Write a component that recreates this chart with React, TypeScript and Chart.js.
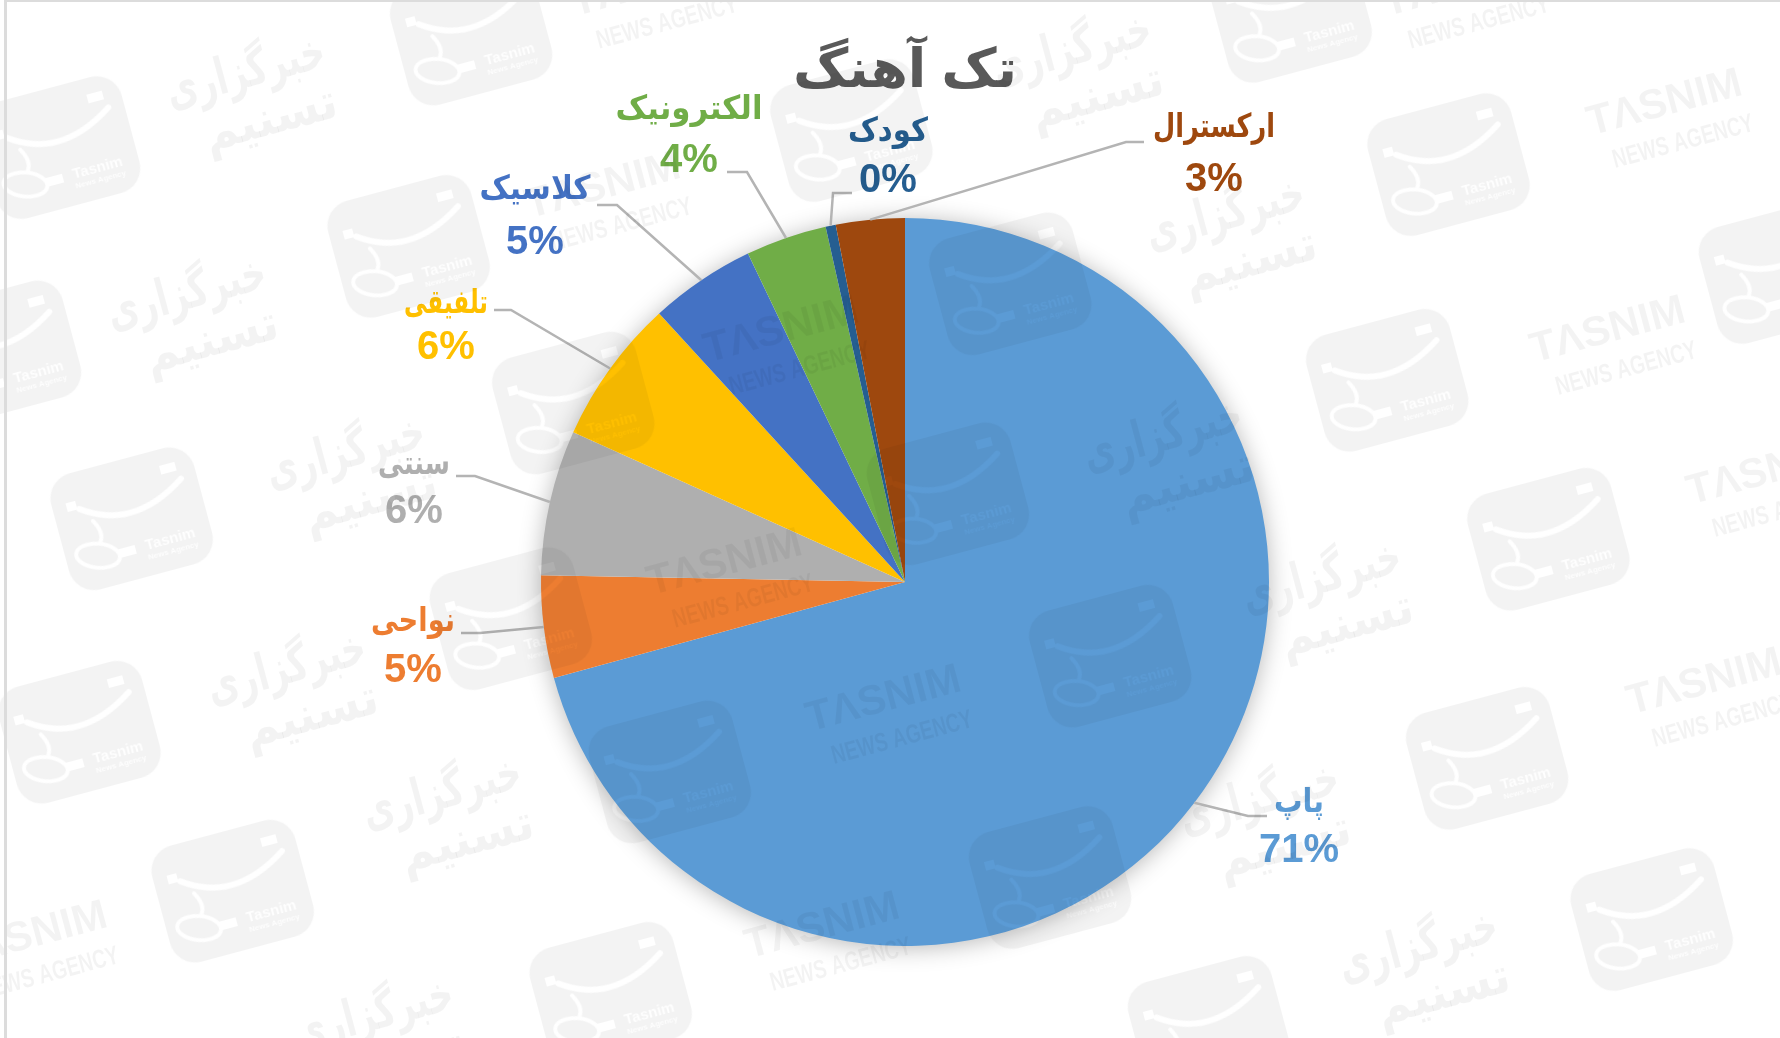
import React, { useEffect, useRef } from "react";
import { Chart, registerables } from "chart.js";

Chart.register(...registerables);

const chartTitle = "تک آهنگ";
const genres = ["پاپ", "نواحی", "سنتی", "تلفیقی", "کلاسیک", "الکترونیک", "کودک", "ارکسترال"];
const shares = [70.75, 4.55, 6.45, 6.45, 4.7, 3.6, 0.45, 3.05];
const colors = ["#5B9BD5", "#ED7D31", "#AFAFAF", "#FFC000", "#4472C4", "#70AD47", "#255E91", "#9E480E"];

// label layout: [centre x, name y, percent y, elbow x, elbow y, end x, name width]
const labelLayout = [
  [1299, 803, 851, 1248, 816, 1267, 50],
  [413, 622, 671, 480, 633, 461, 84],
  [414, 465, 512, 475, 476, 456, 72],
  [446, 304, 348, 511, 310, 494, 84],
  [535, 190, 243, 617, 205, 597, 111],
  [689, 110, 161, 747, 172, 727, 147],
  [888, 132, 181, 833, 193, 852, 80],
  [1214, 128, 180, 1126, 142, 1144, 122],
];

const wmLogos = [[415,30],[750,115],[1137,10],[1276,145],[52,130],[360,217],[890,250],[505,355],[0,310],[1222,335],[835,435],[116,457],[1364,475],[450,545],[978,578],[70,645],[590,680],[1310,668],[925,773],[205,785],[1455,810],[538,875],[1065,905],[1568,240]];
const wmPersian = [[222,85],[950,65],[170,280],[1085,210],[310,420],[1030,405],[258,610],[1170,530],[395,720],[1115,725],[1255,855],[335,915]];
const wmLatin = [[1470,105],[1420,305],[692,305],[1558,430],[642,510],[1505,615],[782,630],[728,830],[30,838],[535,178],[575,0],[1290,0]];
const WM_SCALE = 1.1352;
const WM_ANGLE = (-15 * Math.PI) / 180;
const WM_ALPHA = 0.048;

const FONT = "'Liberation Sans', 'DejaVu Sans', sans-serif";

function makeLogoSprite(): HTMLCanvasElement {
  const c = document.createElement("canvas");
  c.width = 200;
  c.height = 160;
  const g = c.getContext("2d") as CanvasRenderingContext2D;
  g.translate(100, 80);
  g.fillStyle = "#000";
  g.beginPath();
  g.roundRect(-74, -60, 148, 120, 26);
  g.fill();
  g.globalCompositeOperation = "destination-out";
  g.lineCap = "round";
  g.lineWidth = 6;
  g.beginPath();
  g.moveTo(-48, -23);
  g.quadraticCurveTo(0, 12, 58, -26);
  g.stroke();
  g.lineWidth = 4;
  g.beginPath();
  g.moveTo(-38, -8);
  g.quadraticCurveTo(-30, 6, -36, 14);
  g.stroke();
  g.beginPath();
  g.ellipse(-42, 27, 22, 12, 0.35, 0, Math.PI * 2);
  g.stroke();
  g.fillRect(-60, -32, 10, 9);
  g.fillRect(40, -44, 16, 9);
  g.fillRect(-22, 26, 18, 9);
  g.font = `bold 15px ${FONT}`;
  g.textAlign = "center";
  g.fillText("Tasnim", 32, 34);
  g.font = `bold 8px ${FONT}`;
  g.fillText("News Agency", 32, 44);
  return c;
}

const watermarkPlugin = {
  id: "watermark",
  afterDraw(chart: any) {
    const ctx: CanvasRenderingContext2D = chart.ctx;
    const sprite = makeLogoSprite();
    ctx.save();
    ctx.globalAlpha = WM_ALPHA;
    ctx.fillStyle = "#000";
    ctx.textAlign = "center";
    ctx.textBaseline = "middle";
    wmLogos.forEach(([x, y]) => {
      ctx.save();
      ctx.translate(x * WM_SCALE, y * WM_SCALE);
      ctx.rotate(WM_ANGLE);
      ctx.drawImage(sprite, -100, -80);
      ctx.restore();
    });
    wmPersian.forEach(([x, y]) => {
      ctx.save();
      ctx.translate(x * WM_SCALE, y * WM_SCALE);
      ctx.rotate(WM_ANGLE);
      ctx.save();
      ctx.translate(0, -24);
      ctx.scale(1, 1.5);
      ctx.font = `bold 34px ${FONT}`;
      ctx.fillText("خبرگزاری", 0, 0);
      ctx.restore();
      ctx.save();
      ctx.translate(12, 28);
      ctx.scale(1.2, 1.3);
      ctx.font = `bold 38px ${FONT}`;
      ctx.fillText("تسنیم", 0, 0);
      ctx.restore();
      ctx.restore();
    });
    wmLatin.forEach(([x, y]) => {
      ctx.save();
      ctx.translate(x * WM_SCALE, y * WM_SCALE);
      ctx.rotate(WM_ANGLE);
      ctx.font = `bold 42px ${FONT}`;
      ctx.fillText("TΛSNIM", 0, -16);
      ctx.translate(8, 26);
      ctx.scale(0.8, 1.1);
      ctx.font = `bold 24px ${FONT}`;
      ctx.fillText("NEWS AGENCY", 0, 0);
      ctx.restore();
    });
    ctx.restore();
    ctx.save();
    ctx.fillStyle = "#dcdcdc";
    ctx.fillRect(4, 0, 3, chart.height);
    ctx.fillRect(4, 0, chart.width - 4, 2);
    ctx.restore();
  },
};

const shadowPlugin = {
  id: "pieShadow",
  beforeDatasetsDraw(chart: any) {
    const arc = chart.getDatasetMeta(0).data[0];
    if (!arc) return;
    const { x, y, outerRadius } = arc.getProps(["x", "y", "outerRadius"], true);
    const ctx: CanvasRenderingContext2D = chart.ctx;
    ctx.save();
    ctx.shadowColor = "rgba(0,0,0,0.3)";
    ctx.shadowBlur = 24;
    ctx.shadowOffsetY = 2;
    ctx.fillStyle = "#ffffff";
    ctx.beginPath();
    ctx.arc(x, y, outerRadius - 1, 0, Math.PI * 2);
    ctx.fill();
    ctx.restore();
  },
};

const outerLabelPlugin = {
  id: "outerLabels",
  afterDatasetsDraw(chart: any) {
    const ctx: CanvasRenderingContext2D = chart.ctx;
    const meta = chart.getDatasetMeta(0);
    const total = shares.reduce((a, b) => a + b, 0);
    meta.data.forEach((arc: any, i: number) => {
      const { x, y, startAngle, endAngle, outerRadius } = arc.getProps(
        ["x", "y", "startAngle", "endAngle", "outerRadius"],
        true
      );
      const mid = (startAngle + endAngle) / 2;
      const [cx, nameY, pctY, elbowX, elbowY, endX, nameW] = labelLayout[i];
      ctx.save();
      ctx.strokeStyle = "#b4b4b4";
      ctx.lineWidth = 2.5;
      ctx.beginPath();
      ctx.moveTo(x + Math.cos(mid) * outerRadius, y + Math.sin(mid) * outerRadius);
      ctx.lineTo(elbowX, elbowY);
      ctx.lineTo(endX, elbowY);
      ctx.stroke();
      ctx.fillStyle = colors[i];
      ctx.textAlign = "center";
      ctx.textBaseline = "middle";
      ctx.font = `bold 27px ${FONT}`;
      const measured = ctx.measureText(genres[i]).width;
      ctx.save();
      ctx.translate(cx, nameY);
      ctx.scale(nameW / measured, 1.22);
      ctx.fillText(genres[i], 0, 0);
      ctx.restore();
      ctx.font = `bold 40px ${FONT}`;
      ctx.fillText(`${Math.round((shares[i] / total) * 100)}%`, cx, pctY);
      ctx.restore();
    });
  },
};

export default function App() {
  const ref = useRef<HTMLCanvasElement | null>(null);
  useEffect(() => {
    document.body.style.margin = "0";
    const chart = new Chart(ref.current as HTMLCanvasElement, {
      type: "pie",
      data: {
        labels: genres,
        datasets: [{ data: shares, backgroundColor: colors, borderWidth: 0 }],
      },
      options: {
        responsive: false,
        animation: false,
        layout: { padding: { left: 541, right: 511, top: 0, bottom: 92 } },
        plugins: {
          legend: { display: false },
          tooltip: { enabled: false },
          title: {
            display: true,
            text: chartTitle,
            color: "#595959",
            font: { size: 54, weight: "bold", family: FONT },
            padding: { top: 39.6, bottom: 113.6 },
          },
        },
      } as any,
      plugins: [shadowPlugin, outerLabelPlugin, watermarkPlugin],
    });
    return () => chart.destroy();
  }, []);
  return (
    <canvas
      ref={ref}
      width={1780}
      height={1038}
      style={{ display: "block", width: 1780, height: 1038, background: "#ffffff" }}
    />
  );
}
